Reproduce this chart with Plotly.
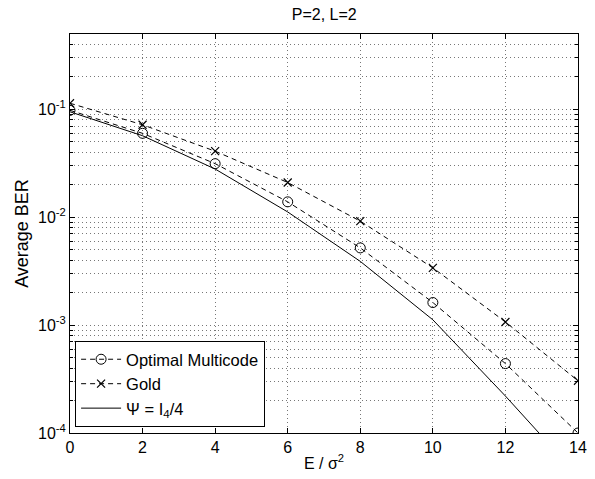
import plotly.graph_objects as go

snr = [0, 2, 4, 6, 8, 10, 12, 14]
ber_optimal = [0.098, 0.060, 0.0314, 0.0139, 0.0052, 0.00162, 0.00044, 0.0001]
ber_gold = [0.114, 0.072, 0.041, 0.021, 0.0092, 0.0034, 0.00107, 0.000305]
ber_ideal = [0.095, 0.057, 0.028, 0.0112, 0.0039, 0.00112, 0.00022, 0.00004]

major_y = [1e-4, 1e-3, 1e-2, 1e-1]
major_text = ["10<sup>-4</sup>", "10<sup>-3</sup>", "10<sup>-2</sup>", "10<sup>-1</sup>"]
minor_y = [m * d for d in [1e-4, 1e-3, 1e-2, 1e-1] for m in range(2, 10) if m * d <= 0.5]

font = "Liberation Sans, Arial, Helvetica, sans-serif"
grid = dict(showgrid=True, gridcolor="#777", griddash="1px,3px", gridwidth=1)

fig = go.Figure()
fig.add_trace(go.Scatter(
    x=snr, y=ber_optimal, mode="lines+markers", name="Optimal Multicode",
    line=dict(color="black", width=1, dash="5px,4px"),
    marker=dict(symbol="circle-open", size=10, color="black", line=dict(width=1))))
fig.add_trace(go.Scatter(
    x=snr, y=ber_gold, mode="lines+markers", name="Gold",
    line=dict(color="black", width=1, dash="5px,4px"),
    marker=dict(symbol="x-thin-open", size=8, color="black", line=dict(width=1.2, color="black"))))
fig.add_trace(go.Scatter(
    x=snr, y=ber_ideal, mode="lines", name="\u03a8 = I<sub>4</sub>/4",
    line=dict(color="black", width=1)))

fig.update_layout(
    width=595, height=479,
    margin=dict(l=70, r=17, t=34, b=46),
    paper_bgcolor="white", plot_bgcolor="white",
    font=dict(family=font, size=16, color="black"),
    title=dict(text="P=2, L=2", x=0.545, xanchor="center", y=0.97, yanchor="middle",
               font=dict(size=16)),
    showlegend=True,
    legend=dict(x=0.01, y=0.015, xanchor="left", yanchor="bottom",
                bgcolor="white", bordercolor="black", borderwidth=1,
                font=dict(size=16.5), tracegroupgap=0, itemwidth=40),
)
fig.update_xaxes(
    range=[0, 14], tickvals=snr, ticks="inside", ticklen=5, tickcolor="black",
    showline=True, linecolor="black", linewidth=1, mirror="ticks", automargin=False,
    zeroline=False, **grid,
    title=dict(text="E / \u03c3<sup>2</sup>", standoff=2, font=dict(size=16)),
    tickfont=dict(size=16))
fig.update_yaxes(
    type="log", range=[-4, -0.301], tickvals=major_y, ticktext=major_text,
    ticks="inside", ticklen=5, tickcolor="black",
    showline=True, linecolor="black", linewidth=1, mirror="ticks", automargin=False,
    zeroline=False, **grid,
    minor=dict(tickvals=minor_y, ticks="inside", ticklen=3, tickcolor="black", **grid),
    title=dict(text="Average BER", standoff=4, font=dict(size=18)),
    tickfont=dict(size=16))

fig.write_html("out.html", config={"displayModeBar": False},
               post_script="document.body.style.margin='0';")
